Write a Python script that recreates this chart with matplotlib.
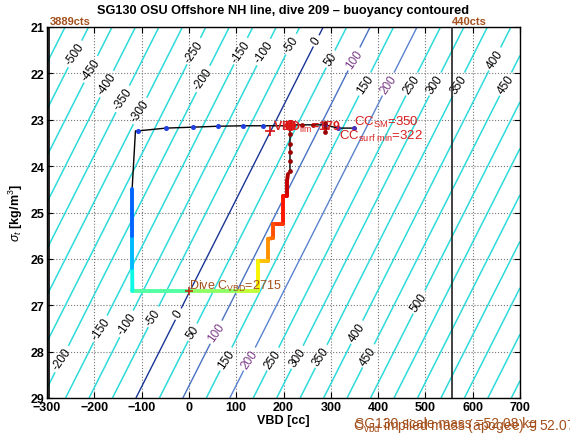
import numpy as np
import matplotlib
matplotlib.use('Agg')
import matplotlib.pyplot as plt
from matplotlib.collections import LineCollection

plt.rcParams['font.family'] = ['Liberation Sans', 'DejaVu Sans']
plt.rcParams['mathtext.fontset'] = 'custom'
plt.rcParams['mathtext.rm'] = 'Liberation Sans'
plt.rcParams['mathtext.it'] = 'Liberation Sans:italic'
plt.rcParams['mathtext.bf'] = 'Liberation Sans:bold'

# ---------------- data ----------------
x_ticks = [-300, -200, -100, 0, 100, 200, 300, 400, 500, 600, 700]
y_ticks = [21, 22, 23, 24, 25, 26, 27, 28, 29]

# buoyancy model (g) as a function of VBD (cc) and sigma_t
vbd_neutral_at_21 = 284.0      # VBD of zero buoyancy at sigma_t = 21
vbd_neutral_slope = -49.5      # cc per unit sigma_t
buoy_per_cc = 1.008            # g per cc
cyan_levels = [l for l in range(-900, 901, 50) if l not in (0, 100, 200)]
blue_levels = [0, 100, 200]

# contour label sigma positions
label_sig_top = {-500: 21.58, -450: 21.91, -400: 22.23, -350: 22.55, -300: 22.81,
                 -250: 21.52, -200: 22.12, -150: 21.52, -100: 21.54, -50: 21.37,
                 50: 21.69, 150: 22.23, 250: 22.23, 300: 22.23, 350: 22.23,
                 400: 21.69, 450: 22.23}
label_sig_bot = {-200: 28.16, -150: 27.51, -100: 27.40, -50: 27.25, 50: 27.58,
                 150: 28.16, 250: 28.16, 300: 28.12, 350: 28.10, 400: 27.58,
                 450: 28.09, 500: 26.93}
blue_label_sig_top = {0: 21.30, 100: 21.69, 200: 22.23}
blue_label_sig_bot = {0: 27.19, 100: 27.58, 200: 28.16}

# coloured (time-coded) part of the dive
col_vbd = [209.5, 207.4, 207.4, 198.3, 198.3, 177.8, 177.8, 167.2, 167.2, 145.5,
           145.5, 100.0, 0.0, -119.6, -120.0, -120.0, -120.0]
col_sig = [24.17, 24.32, 24.64, 24.64, 25.25, 25.25, 25.55, 25.57, 26.04, 26.04,
           26.69, 26.69, 26.69, 26.69, 26.20, 25.50, 24.49]
col_c = [0.97, 0.95, 0.92, 0.90, 0.87, 0.84, 0.81, 0.78, 0.73, 0.68,
         0.62, 0.55, 0.50, 0.40, 0.34, 0.27, 0.18]

# black track, surface start
start_vbd = [349, 315, 288, 218, 213.7, 213.7]
start_sig = [23.18, 23.18, 23.11, 23.11, 23.13, 24.11]
# black track, surface end
end_vbd = [-120.0, -113.0, -107.6, -48.4, 8.7, 61.5, 114.4, 156.7, 213.7]
end_sig = [24.49, 23.24, 23.24, 23.18, 23.16, 23.14, 23.13, 23.13, 23.13]

blue_dot_vbd = [-107.6, -48.4, 8.7, 61.5, 114.4, 156.7]
blue_dot_sig = [23.24, 23.18, 23.16, 23.14, 23.13, 23.13]
purple_dot_vbd = [288, 315, 349]
purple_dot_sig = [23.11, 23.18, 23.18]
dred_dot_vbd = [213.7, 213.7, 213.7, 213.7, 213.7, 240, 262, 288, 288, 288]
dred_dot_sig = [23.31, 23.52, 23.70, 23.89, 24.11, 23.12, 23.11, 23.07, 23.17, 23.27]

vbd_min_line = -296
vbd_max_line = 556
vbd_fin_mark = (171.5, 23.24)
dive_c_mark = (0.0, 26.69)
big_dot = (213.7, 23.11)

# ---------------- figure ----------------
fig = plt.figure(figsize=(5.7, 4.39), dpi=100)
ax = fig.add_axes([47/570, 40/439, 473/570, 371/439])

X, S = np.meshgrid(np.linspace(-300, 700, 201), np.linspace(21, 29, 81))
B = buoy_per_cc * (X - (vbd_neutral_at_21 + vbd_neutral_slope * (S - 21)))

def on_line(level, sig):
    return (vbd_neutral_at_21 + vbd_neutral_slope * (sig - 21) + level / buoy_per_cc, sig)

cs_c = ax.contour(X, S, B, levels=cyan_levels, colors='#2edada', linewidths=1.1,
                  negative_linestyles='solid', zorder=1)
cs_b = ax.contour(X, S, B, levels=blue_levels, colors=['#1a3596', '#4a72c4', '#5a82d0'],
                  linewidths=1.0, negative_linestyles='solid', zorder=1.2)

pos_c = [on_line(l, s) for l, s in label_sig_top.items()] + \
        [on_line(l, s) for l, s in label_sig_bot.items()]
pos_b = [on_line(l, s) for l, s in blue_label_sig_top.items()] + \
        [on_line(l, s) for l, s in blue_label_sig_bot.items()]
tc = ax.clabel(cs_c, manual=pos_c, inline=True, fontsize=8.5, fmt='%d', colors='k', inline_spacing=3)
tb = ax.clabel(cs_b, manual=pos_b, inline=True, fontsize=8.5, fmt='%d', colors='k', inline_spacing=3)
for t in list(tc) + list(tb):
    t.set_rotation(55)
for t in tb:
    if t.get_text() != '0':
        t.set_color('#7a3a86')

# vertical limits
ax.plot([vbd_min_line, vbd_min_line], [21, 29], color='k', lw=1.2, zorder=3)
ax.plot([vbd_max_line, vbd_max_line], [21, 29], color='#222222', lw=1.2, zorder=3)

# black track
ax.plot(start_vbd, start_sig, color='k', lw=1.0, zorder=4)
ax.plot(col_vbd, col_sig, color='k', lw=1.0, zorder=4)
ax.plot(end_vbd, end_sig, color='k', lw=1.0, zorder=4)

# coloured trajectory
pts = np.column_stack([col_vbd, col_sig])
segs = np.stack([pts[:-1], pts[1:]], axis=1)
cvals = (np.array(col_c[:-1]) + np.array(col_c[1:])) / 2
lc = LineCollection(segs, colors=plt.cm.jet(cvals), linewidths=2.8, zorder=5,
                    capstyle='round', joinstyle='round')
ax.add_collection(lc)

ax.plot(blue_dot_vbd, blue_dot_sig, 'o', color='#2040e0', ms=2.6, zorder=6)
ax.plot(purple_dot_vbd, purple_dot_sig, 'o', color='#4a30c0', ms=2.6, zorder=6)
ax.plot(dred_dot_vbd, dred_dot_sig, 'o', color='#990000', ms=2.4, zorder=6)
ax.plot(*big_dot, 'o', color='#dd1111', ms=7, zorder=7)
ax.plot(*vbd_fin_mark, '+', color='#dd1111', ms=7, mew=1.2, zorder=7)
ax.plot(*dive_c_mark, '+', color='#c03010', ms=6, mew=1.2, zorder=7)

red = '#d81e1e'
brown = '#a4501c'
ax.text(178, 23.22, 'VBD$_{\\mathrm{lim}}$=179', color=red, fontsize=9, fontweight='bold', zorder=8)
ax.text(349, 23.11, 'CC$_{\\mathrm{SM}}$=350', color=red, fontsize=9.5, zorder=8)
ax.text(318, 23.42, 'CC$_{\\mathrm{surf\\ min}}$=322', color=red, fontsize=9.5, zorder=8)
ax.text(0.5, 26.65, 'Dive C$_{\\mathrm{VBD}}$=2715', color=brown, fontsize=9, zorder=8)
ax.text(vbd_min_line + 2, 20.97, '3889cts', color=brown, fontsize=8, fontweight='bold', va='bottom')
ax.text(vbd_max_line, 20.97, '440cts', color=brown, fontsize=8, fontweight='bold', va='bottom')

fig.text(355/570, 1 - 428/439, 'SG130 scale mass =52.08 kg', color=brown, fontsize=10)
fig.text(353/570, 1 - 430/439, 'C$_{\\mathrm{vbd}}$ implied mass (apogee) = 52.079', color=brown, fontsize=10)

ax.set_xlim(-300, 700)
ax.set_ylim(29, 21)
ax.set_xticks(x_ticks)
ax.set_yticks(y_ticks)
ax.tick_params(direction='in', top=True, right=True, length=4, labelsize=9, pad=2)
for lab in ax.get_xticklabels() + ax.get_yticklabels():
    lab.set_fontweight('bold')
ax.grid(True, linestyle=':', color='#777777', lw=0.8)
ax.set_axisbelow(True)
for sp in ax.spines.values():
    sp.set_linewidth(1.0)

ax.set_xlabel('VBD [cc]', fontweight='bold', fontsize=9, labelpad=1)
ax.set_ylabel('$\\sigma_t$ [kg/m$^3$]', fontweight='bold', fontsize=9, labelpad=4)
ax.set_title('SG130 OSU Offshore NH line, dive 209 \u2013 buoyancy contoured',
             fontweight='bold', fontsize=9.2, pad=10)

fig.savefig('out.png', dpi=100)
